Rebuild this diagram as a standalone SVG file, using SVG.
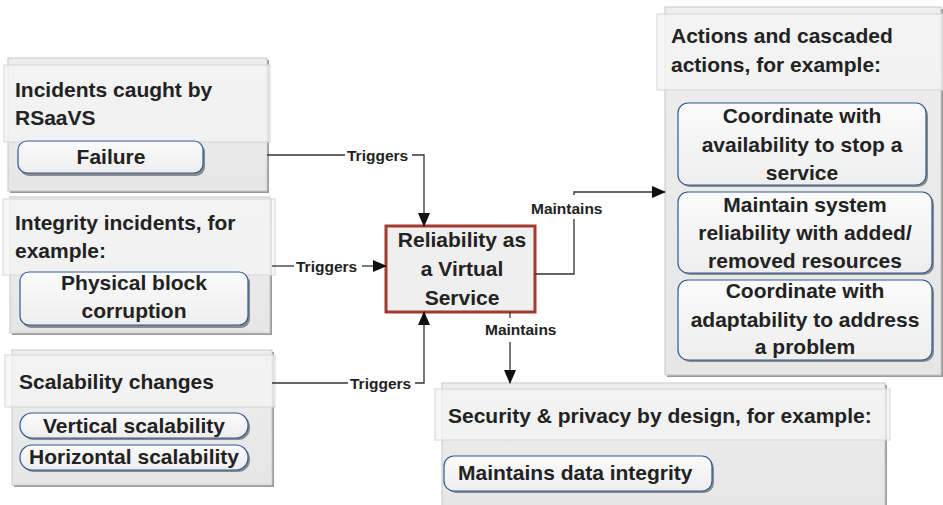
<svg xmlns="http://www.w3.org/2000/svg" width="943" height="505" viewBox="0 0 943 505">
<style>
.t{font-family:"Liberation Sans",Arial,sans-serif;font-weight:bold;fill:#222;font-size:21px}
.c{text-anchor:middle}
.lbl{font-family:"Liberation Sans",Arial,sans-serif;font-weight:bold;fill:#222;font-size:15.5px}
.shadow{fill:#9a9a9a}
.cont{fill:url(#gc);stroke:#c8c8c8;stroke-width:1}
.head{fill:#f4f4f4;fill-opacity:0.75;stroke:#d6d6d6;stroke-width:1}
.pillsh{fill:#8a8a8a}
.pill{fill:url(#gp);stroke:#2d5b95;stroke-width:1.2}
.ln{fill:none;stroke:#333;stroke-width:1.3}
</style>
<defs>
<linearGradient id="gc" x1="0" y1="0" x2="0" y2="1">
<stop offset="0" stop-color="#eeeeee"/>
<stop offset="1" stop-color="#e6e6e6"/>
</linearGradient>
<linearGradient id="gp" x1="0" y1="0" x2="0" y2="1">
<stop offset="0" stop-color="#fbfbfb"/>
<stop offset="1" stop-color="#eeeeee"/>
</linearGradient>
<marker id="ah" markerWidth="14" markerHeight="12" refX="13" refY="6" orient="auto" markerUnits="userSpaceOnUse">
<path d="M0,0 L14,6 L0,12 Z" fill="#111"/>
</marker>
</defs>
<rect width="943" height="505" fill="#fff"/>

<g id="incidents">
<rect class="shadow" x="10" y="60" width="259" height="133"/>
<rect class="cont" x="8" y="58" width="259" height="133"/>
<rect class="head" x="4" y="65" width="266" height="77"/>
<text class="t" x="15" y="97">Incidents caught by</text>
<text class="t" x="15" y="125">RSaaVS</text>
<rect class="pillsh" x="20" y="143" width="185" height="33" rx="9"/>
<rect class="pill" x="18" y="141" width="185" height="32" rx="9"/>
<text class="t c" x="111" y="164">Failure</text>
</g>

<g id="integrity">
<rect class="shadow" x="12" y="199" width="260" height="136"/>
<rect class="cont" x="10" y="197" width="260" height="136"/>
<rect class="head" x="3" y="199" width="272" height="76"/>
<text class="t" x="15" y="230">Integrity incidents, for</text>
<text class="t" x="15" y="258">example:</text>
<rect class="pillsh" x="22" y="274" width="228" height="54" rx="9"/>
<rect class="pill" x="20" y="272" width="228" height="53" rx="9"/>
<text class="t c" x="134" y="290">Physical block</text>
<text class="t c" x="134" y="318">corruption</text>
</g>

<g id="scalability">
<rect class="shadow" x="14" y="352" width="260" height="135"/>
<rect class="cont" x="12" y="350" width="260" height="135"/>
<rect class="head" x="5" y="355" width="270" height="52"/>
<text class="t" x="19" y="389">Scalability changes</text>
<rect class="pillsh" x="22" y="415" width="228" height="25" rx="12"/>
<rect class="pill" x="20" y="413" width="228" height="25" rx="12"/>
<text class="t c" x="134" y="433">Vertical scalability</text>
<rect class="pillsh" x="22" y="447" width="228" height="25" rx="12"/>
<rect class="pill" x="20" y="445" width="228" height="25" rx="12"/>
<text class="t c" x="134" y="464">Horizontal scalability</text>
</g>

<g id="reliability">
<rect x="386" y="226" width="149" height="86" fill="#efefef" stroke="#a33a30" stroke-width="3"/>
<text class="t c" x="462" y="247">Reliability as</text>
<text class="t c" x="462" y="276">a Virtual</text>
<text class="t c" x="462" y="305">Service</text>
</g>

<g id="actions">
<rect class="shadow" x="667" y="9" width="276" height="368"/>
<rect class="cont" x="665" y="7" width="276" height="368"/>
<rect class="head" x="657" y="14" width="286" height="76"/>
<text class="t" x="671" y="43">Actions and cascaded</text>
<text class="t" x="671" y="72">actions, for example:</text>
<rect class="pillsh" x="680" y="105" width="248" height="82" rx="10"/>
<rect class="pill" x="678" y="103" width="248" height="82" rx="10"/>
<text class="t c" x="802" y="123">Coordinate with</text>
<text class="t c" x="802" y="152">availability to stop a</text>
<text class="t c" x="802" y="180">service</text>
<rect class="pillsh" x="680" y="194" width="254" height="81" rx="10"/>
<rect class="pill" x="678" y="192" width="254" height="81" rx="10"/>
<text class="t c" x="805" y="212">Maintain system</text>
<text class="t c" x="805" y="240">reliability with added/</text>
<text class="t c" x="805" y="268">removed resources</text>
<rect class="pillsh" x="680" y="282" width="254" height="80" rx="10"/>
<rect class="pill" x="678" y="280" width="254" height="80" rx="10"/>
<text class="t c" x="805" y="298">Coordinate with</text>
<text class="t c" x="805" y="327">adaptability to address</text>
<text class="t c" x="805" y="354">a problem</text>
</g>

<g id="security">
<rect class="shadow" x="444" y="385" width="443" height="130"/>
<rect class="cont" x="442" y="383" width="443" height="130"/>
<rect class="head" x="435" y="389" width="455" height="51"/>
<text class="t" x="448" y="423">Security &amp; privacy by design, for example:</text>
<rect class="pillsh" x="446" y="458" width="268" height="35" rx="10"/>
<rect class="pill" x="444" y="456" width="268" height="35" rx="10"/>
<text class="t" x="458" y="480">Maintains data integrity</text>
</g>

<g id="connectors">
<polyline class="ln" points="267,155 345,155"/>
<polyline class="ln" points="412,155 424,155 424,226" marker-end="url(#ah)"/>
<text class="lbl" x="347" y="161">Triggers</text>

<polyline class="ln" points="272,266 294,266"/>
<polyline class="ln" points="362,266 386,266" marker-end="url(#ah)"/>
<text class="lbl" x="296" y="272">Triggers</text>

<polyline class="ln" points="272,383 348,383"/>
<polyline class="ln" points="415,383 424,383 424,312" marker-end="url(#ah)"/>
<text class="lbl" x="350" y="389">Triggers</text>

<polyline class="ln" points="510,312 510,318"/>
<polyline class="ln" points="510,342 510,383" marker-end="url(#ah)"/>
<text class="lbl" x="485" y="335">Maintains</text>

<polyline class="ln" points="535,274 574,274 574,219"/>
<polyline class="ln" points="574,195 574,192 665,192" marker-end="url(#ah)"/>
<text class="lbl" x="531" y="214">Maintains</text>
</g>
</svg>
